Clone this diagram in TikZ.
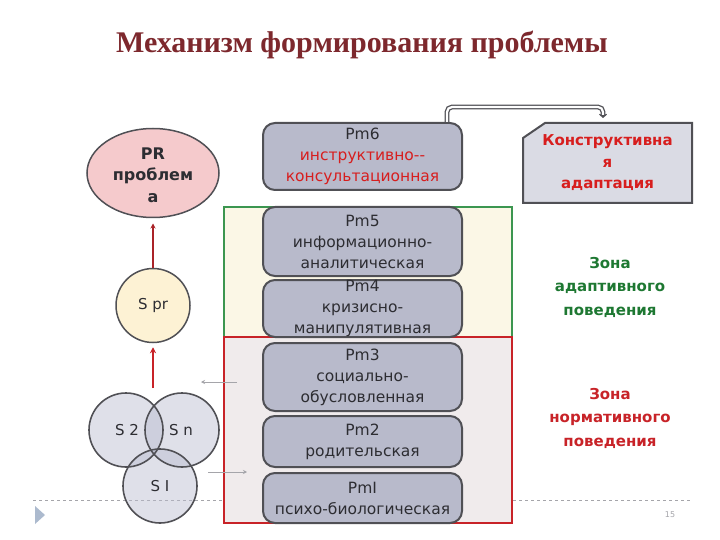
\documentclass[tikz,border=0pt]{standalone}
\usepackage{fontspec}
\setmainfont{DejaVu Sans}
\newfontfamily\titlefont{Liberation Serif}
\usetikzlibrary{arrows.meta,calc}
\definecolor{titlered}{RGB}{125,40,45}
\definecolor{boxfill}{RGB}{184,186,203}
\definecolor{boxline}{RGB}{80,80,85}
\definecolor{txt}{RGB}{45,45,50}
\definecolor{redtxt}{RGB}{215,30,30}
\definecolor{greentxt}{RGB}{30,120,50}
\definecolor{zonegreen}{RGB}{60,150,80}
\definecolor{zonered}{RGB}{200,35,40}
\definecolor{greenfill}{RGB}{251,247,230}
\definecolor{redfill}{RGB}{240,235,236}
\definecolor{prfill}{RGB}{245,202,204}
\definecolor{sprfill}{RGB}{253,242,212}
\definecolor{sfill}{RGB}{185,188,207}
\definecolor{konstfill}{RGB}{218,219,228}
\definecolor{arrred}{RGB}{170,35,40}
\definecolor{footgray}{RGB}{165,165,170}
\definecolor{triblue}{RGB}{172,186,206}
\begin{document}
\begin{tikzpicture}[x=1pt,y=-1pt,
  pmbox/.style={draw=boxline, line width=2pt, fill=boxfill, rounded corners=12pt,
    minimum width=199pt, align=center, inner sep=0pt, text=txt,
    font=\fontsize{15.5}{21}\selectfont},
  zonetext/.style={align=center, font=\fontsize{15}{23.5}\selectfont\bfseries},
  scirc/.style={circle, minimum size=74pt, inner sep=0pt},
  sline/.style={draw=boxline, line width=1.6pt},
  slabel/.style={text=txt, font=\fontsize{15}{18}\selectfont},
  grayarrow/.style={draw=footgray, line width=0.8pt, -{Stealth[length=4pt,width=4pt]}},
  dbl/.style={draw=boxline, line width=1.3pt, double=white, double distance=2.2pt}
]
\useasboundingbox (0,0) rectangle (720,540);
\fill[white] (0,0) rectangle (720,540);

% title
\node[font=\titlefont\fontsize{30}{32}\selectfont\bfseries, text=titlered] (title) at (362,45) {Механизм формирования проблемы};

% footer
\draw[footgray, line width=0.6pt, dashed] (33,500) -- (690,500);
\fill[triblue] (35,506) -- (45,515) -- (35,524) -- cycle;
\node[font=\fontsize{8}{9}\selectfont, text=footgray] (pgnum) at (670,515) {15};

% zones
\draw[draw=zonegreen, line width=1.5pt, fill=greenfill] (224,207) rectangle (512,337);
\draw[draw=zonered, line width=2pt, fill=redfill] (224,337) rectangle (512,523);

% Pm boxes
\node[pmbox, minimum height=67pt] (pm6) at (362.5,156.5) {Pm6\\\textcolor{redtxt}{инструктивно-{}-}\\\textcolor{redtxt}{консультационная}};
\node[pmbox, minimum height=69pt] (pm5) at (362.5,241.5) {Pm5\\информационно-\\аналитическая};
\node[pmbox, minimum height=57pt] (pm4) at (362.5,308.5) {Pm4\\кризисно-\\манипулятивная};
\node[pmbox, minimum height=68pt] (pm3) at (362.5,377) {Pm3\\социально-\\обусловленная};
\node[pmbox, minimum height=51pt] (pm2) at (362.5,441.5) {Pm2\\родительская};
\node[pmbox, minimum height=50pt] (pm1) at (362.5,498) {PmI\\психо-биологическая};

% constructive adaptation box
\draw[draw=boxline, line width=2pt, fill=konstfill] (523,138) -- (545,123) -- (692,123) -- (692,203) -- (523,203) -- cycle;
\node[minimum width=169pt, minimum height=80pt, inner sep=0pt, align=center, text=redtxt,
  font=\fontsize{15}{21.5}\selectfont\bfseries] (konst) at (607.5,163) {Конструктивна\\я\\адаптация};

% bracket connector
\coordinate (bL) at (447,107);
\coordinate (bR) at (603,107);
\coordinate (bEnd) at (603,118);
\draw[dbl, rounded corners=5pt] (pm6.north -| bL) -- (bL) -- (bR) -- ($(bEnd)+(0,-2)$);
\draw[draw=boxline, line width=1.2pt, -{Straight Barb[length=3pt,width=7pt]}] ($(bEnd)+(0,-3)$) -- (bEnd);

% zone texts
\node[zonetext, text=greentxt] (zadapt) at (610,287) {Зона\\адаптивного\\поведения};
\node[zonetext, text=zonered] (znorm) at (610,418) {Зона\\нормативного\\поведения};

% PR ellipse
\draw[draw=boxline, line width=1.5pt, fill=prfill] (153,173) ellipse [x radius=66, y radius=44.5];
\node[align=center, font=\fontsize{16}{21.5}\selectfont\bfseries, text=txt] (pr) at (153,175) {PR\\проблем\\а};
\coordinate (prb) at (153,217.5);

% S pr circle
\node[scirc, draw=boxline, line width=1.5pt, fill=sprfill, text=txt,
  font=\fontsize{15}{18}\selectfont] (spr) at (153,305.5) {S pr};

% three circles
\fill[sfill, fill opacity=0.45] (126,430) circle (37);
\fill[sfill, fill opacity=0.45] (182,430) circle (37);
\fill[sfill, fill opacity=0.45] (160,486) circle (37);
\draw[sline] (126,430) circle (37);
\draw[sline] (182,430) circle (37);
\draw[sline] (160,486) circle (37);
\node[slabel] (s2) at (127,430) {S 2};
\node[slabel] (sn) at (181,430) {S n};
\node[slabel] (s1) at (160,486) {S I};

% arrows
\coordinate (sstart) at (153,388);
\draw[draw=zonered, line width=2.2pt, -{Stealth[length=6pt,width=6pt]}] (sstart) -- ($(spr.south)+(0,4)$);
\draw[draw=arrred, line width=1.2pt, -{Stealth[length=5pt,width=5pt]}] (spr.north) -- ($(prb)+(0,6)$);

\coordinate (ga1s) at (237,382);
\coordinate (ga1e) at (201,382);
\draw[grayarrow] (ga1s) -- (ga1e);
\coordinate (ga2s) at (208,472);
\coordinate (ga2e) at (247,472);
\draw[grayarrow] (ga2s) -- (ga2e);
\end{tikzpicture}
\end{document}
